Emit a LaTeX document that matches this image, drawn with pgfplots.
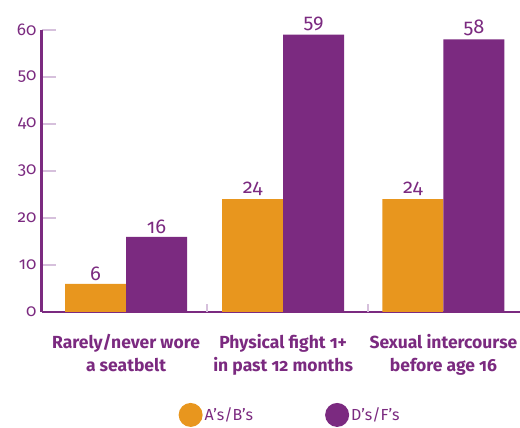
\documentclass[border=0pt]{standalone}
\usepackage{fontspec}
\setmainfont[Numbers=OldStyle]{Fira Sans}
\usepackage{pgfplots}
\pgfplotsset{compat=1.18}
\definecolor{cpurple}{HTML}{7B2A80}
\definecolor{corange}{HTML}{E8961E}
\definecolor{ctick}{HTML}{D6C0DC}
\begin{document}
\begin{tikzpicture}
\begin{axis}[
  scale only axis, width=478pt, height=282pt,
  xmin=-0.527, xmax=2.47, ymin=0, ymax=60,
  ybar=0pt, bar width=61pt,
  axis x line=bottom, axis y line=left,
  axis line style={cpurple, -},
  x axis line style={line width=1.8pt},
  y axis line style={line width=3pt},
  ytick={0,10,...,60},
  /pgf/number format/assume math mode=true,
  yticklabel style={font=\fontsize{17}{17}\selectfont, text=cpurple, xshift=-2pt},
  tick align=inside, major tick length=14pt,
  ytick style={draw=ctick, line width=2.5pt},
  xtick={0,0.985,1.99},
  xticklabels={{Rarely/never wore\\a seatbelt},{Physical fight 1+\\in past 12 months},{Sexual intercourse\\before age 16}},
  xticklabel style={align=center, font=\bfseries\fontsize{17.5}{23}\selectfont, text=cpurple, yshift=-19pt},
  xtick style={draw=none},
  extra x ticks={0.508,1.517}, extra x tick labels={},
  extra x tick style={major tick length=8pt, xtick style={draw=ctick, line width=2pt}},
  nodes near coords,
  nodes near coords style={text=cpurple, font=\fontsize{20}{20}\selectfont, anchor=south},
  legend style={at={(0.519,-0.365)}, anchor=center, draw=none, fill=none,
    legend columns=2, font=\fontsize{16}{16}\selectfont, text=cpurple,
    /tikz/every even column/.append style={column sep=70pt}},
  legend cell align=left,
  clip=false,
]
\addplot[fill=corange, draw=none, legend image code/.code={\fill[corange] (6pt,0pt) circle (12pt);}] coordinates {(0,6) (0.985,24) (1.99,24)};
\addplot[fill=cpurple, draw=none, legend image code/.code={\fill[cpurple] (6pt,0pt) circle (12pt);}] coordinates {(0,16) (0.985,59) (1.99,58)};
\legend{A’s/B’s, D’s/F’s}
\pgfplotsinvokeforeach{10,20,30,40,50,60}{
  \draw[ctick, line width=2.2pt] ([xshift=1.5pt]axis cs:-0.527,#1) -- ++(13pt,0pt);
}
\end{axis}
\pgfresetboundingbox
\path (-42pt,-116pt) rectangle (478pt,312pt);
\end{tikzpicture}
\end{document}
